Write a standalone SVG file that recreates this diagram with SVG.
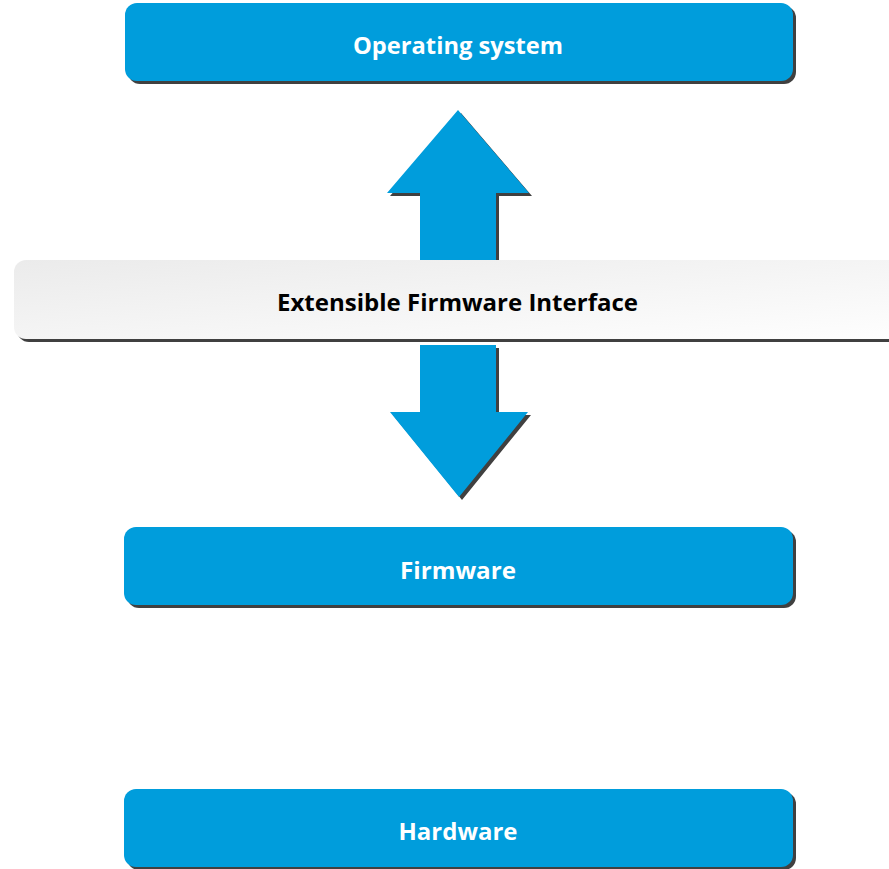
<svg xmlns="http://www.w3.org/2000/svg" width="889" height="869" viewBox="0 0 889 869">
<style>
.box{fill:#009ddc}
.shadow{fill:#404040}
.lbl{font-family:"Open Sans","Liberation Sans",sans-serif;font-weight:bold;font-size:23.5px;text-anchor:middle}
.w{fill:#ffffff}
.k{fill:#000000}
</style>
<defs>
<linearGradient id="efiGrad" x1="0" y1="0" x2="1" y2="1" gradientUnits="objectBoundingBox">
<stop offset="0" stop-color="#ebebeb"/>
<stop offset="1" stop-color="#fefefe"/>
</linearGradient>
</defs>
<rect width="889" height="869" fill="#ffffff"/>
<g id="connectors">
<g id="arrow-up">
<polygon class="shadow" points="461,113 532,196 499,196 499,262 423,262 423,196 390,196"/>
<polygon class="box" points="458,110 529,193 496,193 496,262 420,262 420,193 387,193"/>
</g>
<g id="arrow-down">
<polygon class="shadow" points="423,348 499,348 499,415 531,415 462,500 393,415 423,415"/>
<polygon class="box" points="420,345 496,345 496,412 528,412 459,497 390,412 420,412"/>
</g>
</g>
<g id="node-os">
<rect class="shadow" x="128" y="6" width="668" height="78" rx="12"/>
<rect class="box" x="125" y="3" width="668" height="78" rx="12"/>
<text class="lbl w" x="458" y="54" textLength="210" lengthAdjust="spacingAndGlyphs">Operating system</text>
</g>
<g id="node-efi">
<rect class="shadow" x="17" y="263" width="890" height="79" rx="12"/>
<rect x="14" y="260" width="890" height="79" rx="12" fill="url(#efiGrad)"/>
<text class="lbl k" x="457.5" y="311" textLength="361" lengthAdjust="spacingAndGlyphs">Extensible Firmware Interface</text>
</g>
<g id="node-firmware">
<rect class="shadow" x="127" y="530" width="669" height="78" rx="12"/>
<rect class="box" x="124" y="527" width="669" height="78" rx="12"/>
<text class="lbl w" x="458" y="579" textLength="116" lengthAdjust="spacingAndGlyphs">Firmware</text>
</g>
<g id="node-hardware">
<rect class="shadow" x="127" y="792" width="669" height="78" rx="12"/>
<rect class="box" x="124" y="789" width="669" height="78" rx="12"/>
<text class="lbl w" x="458" y="840" textLength="119" lengthAdjust="spacingAndGlyphs">Hardware</text>
</g>
</svg>
